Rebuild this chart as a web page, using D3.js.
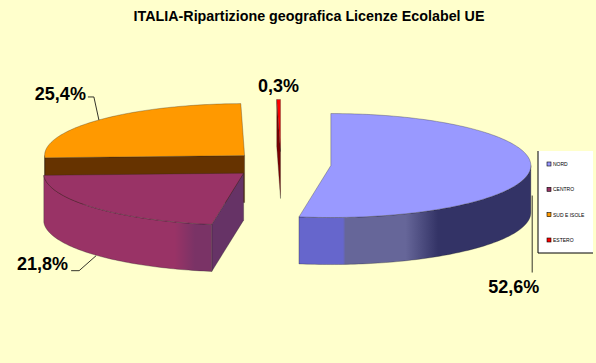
<!DOCTYPE html>
<html>
<head>
<meta charset="utf-8">
<script src="https://cdn.jsdelivr.net/npm/d3@7"></script>
<style>
  body { margin: 0; background: #ffffcc; }
  svg { display: block; font-family: "Liberation Sans", Arial, sans-serif; }
</style>
</head>
<body>
<div id="chart"></div>
<script>
// data
const regions = ["NORD", "CENTRO", "SUD E ISOLE", "ESTERO"];
const shares = [52.6, 21.8, 25.4, 0.3];
const shareLabels = ["52,6%", "21,8%", "25,4%", "0,3%"];
const chartTitle = "ITALIA-Ripartizione geografica Licenze Ecolabel UE";

// colours per slice: top, side, cut face
const topColors = ["#9999ff", "#993366", "#ff9900", "#ff0000"];
const sideStops = [
  [[0, "#6666cc"], [0.19, "#6666cc"], [0.2, "#666699"], [0.46, "#666699"], [0.6, "#333366"], [1, "#333366"]],
  [[0, "#993366"], [0.78, "#993366"], [0.9, "#7a3366"], [1, "#7a3366"]],
  [[0, "#cc6600"], [1, "#cc6600"]],
  [[0, "#800000"], [1, "#800000"]]
];
const cutColors = ["#444488", "#663366", "#663300", "#7a0000"];

const width = 596, height = 363;
const cx = 281, cy = 164.5;   // pie centre
const rx = 200, ry = 52;      // ellipse radii
const depth = 47;             // thickness
const explode = 50;
const k = ry / rx;

const svg = d3.select("#chart").append("svg")
  .attr("width", width).attr("height", height);

svg.append("rect").attr("width", width).attr("height", height).attr("fill", "#ffffcc");

svg.append("text")
  .attr("x", 309).attr("y", 21)
  .attr("text-anchor", "middle")
  .style("font-size", "14.3px").style("font-weight", "bold")
  .text(chartTitle);

const pie = d3.pie().sort(null).value(d => d);
const arcs = pie(shares);

const defs = svg.append("defs");
sideStops.forEach(function(stops, i) {
  const g = defs.append("linearGradient").attr("id", "side" + i)
    .attr("x1", 0).attr("x2", 1).attr("y1", 0).attr("y2", 0);
  stops.forEach(s => g.append("stop").attr("offset", s[0]).attr("stop-color", s[1]));
});

const line = d3.line();

function rim(c, t, z) {
  return [c[0] + rx * Math.sin(t), c[1] - ry * Math.cos(t) + z];
}
function arcPts(c, a, b, z) {
  const n = Math.max(2, Math.ceil(Math.abs(b - a) / 0.02));
  return d3.range(n + 1).map(i => rim(c, a + (b - a) * i / n, z));
}

const slices = arcs.map(function(d, i) {
  const mid = (d.startAngle + d.endAngle) / 2;
  const c = [cx + explode * Math.sin(mid), cy - explode * k * Math.cos(mid)];
  return { d: d, i: i, mid: mid, c: c };
});

const g = svg.append("g");

slices.slice().sort((p, q) => p.c[1] - q.c[1]).forEach(function(s) {
  const a = s.d.startAngle, b = s.d.endAngle, c = s.c, i = s.i;
  const sg = g.append("g");
  const edge = { stroke: "#222", "stroke-width": 0.5, "stroke-opacity": 0.6 };

  // cut faces facing the viewer
  [[a, Math.sin(a) < -1e-6], [b, Math.sin(b) > 1e-6]].forEach(function(f) {
    if (!f[1]) return;
    const t = f[0];
    sg.append("path")
      .attr("d", line([[c[0], c[1]], rim(c, t, 0), rim(c, t, depth), [c[0], c[1] + depth]]) + "Z")
      .attr("fill", cutColors[i]).attr("stroke", edge.stroke)
      .attr("stroke-width", edge["stroke-width"]).attr("stroke-opacity", edge["stroke-opacity"]);
  });

  // outer side, front half only
  const s0 = Math.max(a, Math.PI / 2), s1 = Math.min(b, Math.PI * 1.5);
  if (s1 > s0) {
    const pts = arcPts(c, s0, s1, 0).concat(arcPts(c, s1, s0, depth));
    sg.append("path").attr("d", line(pts) + "Z")
      .attr("fill", "url(#side" + i + ")").attr("stroke", edge.stroke)
      .attr("stroke-width", edge["stroke-width"]).attr("stroke-opacity", edge["stroke-opacity"]);
  }

  // top face
  sg.append("path")
    .attr("d", line([[c[0], c[1]]].concat(arcPts(c, a, b, 0))) + "Z")
    .attr("fill", topColors[i]).attr("stroke", edge.stroke)
    .attr("stroke-width", edge["stroke-width"]).attr("stroke-opacity", edge["stroke-opacity"]);
});

// labels with leader lines (offsets from the slice's outer point)
const labelLayout = [
  { text: [9, 97], leader: [[2, 0], [2, 77]], anchor: "end", side: true, mid: 0.55 },
  { text: [-26, 15], leader: [[2, 1], [-15, 16], [-23, 16]], anchor: "end", side: true },
  { text: [-13, -20], leader: [[0, 0], [-5, -23], [-11, -23]], anchor: "end", side: false },
  { text: [-2, -8], leader: null, anchor: "middle", side: false }
];

slices.forEach(function(s, i) {
  const L = labelLayout[i];
  const p = rim(s.c, s.mid, L.side ? depth * (L.mid || 1) : 0);
  if (i === 3) { p[0] = s.c[0]; p[1] = s.c[1] - ry; }
  if (L.leader) {
    svg.append("path")
      .attr("d", line(L.leader.map(o => [p[0] + o[0], p[1] + o[1]])))
      .attr("fill", "none").attr("stroke", "#000").attr("stroke-width", 0.8);
  }
  svg.append("text")
    .attr("x", p[0] + L.text[0]).attr("y", p[1] + L.text[1])
    .attr("text-anchor", L.anchor)
    .style("font-size", "18px").style("font-weight", "bold")
    .text(shareLabels[i]);
});

// legend
const lg = svg.append("g").attr("transform", "translate(538,151)");
lg.append("rect").attr("width", 55).attr("height", 102).attr("fill", "#fff");
lg.append("path").attr("d", "M0,0V102H55").attr("fill", "none").attr("stroke", "#000").attr("stroke-width", 1);
const ly = d3.scalePoint().domain(regions).range([13, 89]);
const item = lg.selectAll("g.item").data(regions).enter().append("g")
  .attr("class", "item")
  .attr("transform", d => "translate(9," + ly(d) + ")");
item.append("rect").attr("x", 0).attr("y", -2).attr("width", 4).attr("height", 4)
  .attr("fill", (d, i) => topColors[i]).attr("stroke", "#000").attr("stroke-width", 0.6);
item.append("text").attr("x", 6).attr("y", 2)
  .style("font-size", "5px").attr("fill", "#000")
  .text(d => d);
</script>
</body>
</html>
